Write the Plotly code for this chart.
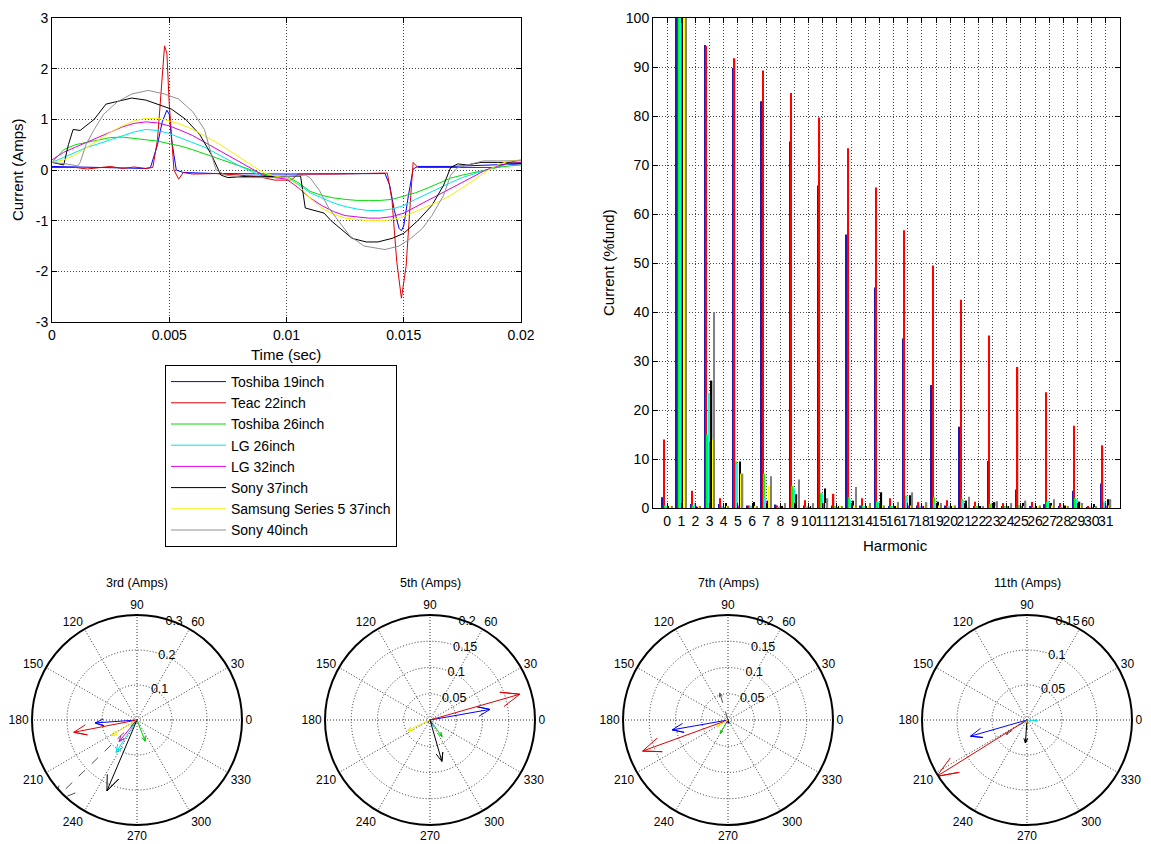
import numpy as np
import plotly.graph_objects as go

# page body has an 8px margin; the figure is sized so that it fills the window from there
OFF = 8
W, H = 1151 - OFF, 844 - OFF
FONT = "Liberation Sans, Arial, Helvetica, sans-serif"

names = ["Toshiba 19inch", "Teac 22inch", "Toshiba 26inch", "LG 26inch",
         "LG 32inch", "Sony 37inch", "Samsung Series 5 37inch", "Sony 40inch"]
line_colors = ["#0000ff", "#e00000", "#00dd00", "#00e5e5", "#e000e0", "#000000", "#f2f200", "#909090"]
bar_colors = ["#2218b0", "#ff0000", "#00ff00", "#00ffff", "#ff00ff", "#000000", "#ffff00", "#808080"]
arrow_colors = ["#0000ff", "#e00000", "#00cc00", "#00dddd", "#dd00dd", "#000000", "#eeee00", "#505050"]

# ---------------- time domain waveforms ----------------
t_grid = [0, .0005, .001, .0015, .002, .0025, .003, .0035, .004, .0045, .005, .0055, .006, .0065,
          .007, .0075, .008, .0085, .009, .0095, .01, .0105, .011, .0115, .012, .0125, .013, .0135,
          .014, .0145, .015, .0155, .016, .0165, .017, .0175, .018, .0185, .019, .0195, .02]

t_tosh19 = [0, .002, .004, .0042, .0045, .0047, .0049, .005, .0051, .0053, .0056, .007, .01, .0142,
            .0144, .0146, .0148, .0149, .015, .0152, .0154, .0156, .017, .02]
i_tosh19 = [0.07, 0.05, 0.03, 0.05, 0.5, 0.95, 1.18, 1.1, 0.6, 0.0, -0.05, -0.07, -0.08, -0.07,
            -0.3, -0.8, -1.15, -1.2, -1.1, -0.5, 0.02, 0.07, 0.07, 0.12]

t_teac = [0, .001, .0015, .0025, .003, .0035, .004, .0043, .0045, .0047, .0048, .0049, .005, .0052,
          .0054, .0056, .006, .007, .008, .009, .0095, .0102, .0105, .012, .0143, .0145, .0147, .0149,
          .0151, .0153, .0154, .0156, .016, .0165, .017, .018, .019, .0195, .02]
i_teac = [0.05, 0.05, 0.02, 0.07, 0.03, 0.06, 0.03, 0.05, 0.6, 1.8, 2.45, 2.3, 1.3, 0.0,
          -0.18, -0.05, -0.08, -0.07, -0.1, -0.15, -0.2, -0.2, -0.08, -0.08, -0.06, -0.6, -1.8, -2.53,
          -1.9, -0.5, 0.15, 0.05, 0.05, 0.06, 0.05, 0.06, 0.05, 0.15, 0.2]

i_tosh26 = [0.15, 0.4, 0.5, 0.55, 0.6, 0.64, 0.65, 0.62, 0.6, 0.57, 0.52, 0.47, 0.4, 0.32,
            0.25, 0.17, 0.08, 0.0, -0.08, -0.12, -0.12, -0.25, -0.42, -0.5, -0.55, -0.58, -0.6, -0.6,
            -0.6, -0.58, -0.52, -0.45, -0.36, -0.26, -0.16, -0.1, -0.05, 0.0, 0.05, 0.08, 0.1]
i_lg26 = [0.15, 0.25, 0.35, 0.45, 0.52, 0.6, 0.68, 0.75, 0.8, 0.78, 0.72, 0.63, 0.55, 0.45,
          0.33, 0.2, 0.08, -0.03, -0.12, -0.15, -0.15, -0.28, -0.45, -0.55, -0.65, -0.72, -0.77, -0.8,
          -0.8, -0.77, -0.7, -0.58, -0.47, -0.35, -0.25, -0.15, -0.07, 0.0, 0.07, 0.12, 0.15]
i_lg32 = [0.2, 0.35, 0.45, 0.55, 0.65, 0.75, 0.85, 0.92, 0.95, 0.93, 0.87, 0.78, 0.68, 0.55,
          0.42, 0.28, 0.15, 0.02, -0.1, -0.15, -0.18, -0.35, -0.55, -0.7, -0.82, -0.9, -0.93, -0.95,
          -0.95, -0.92, -0.85, -0.73, -0.6, -0.48, -0.37, -0.25, -0.12, 0.0, 0.08, 0.13, 0.15]
i_sam37 = [0.15, 0.2, 0.3, 0.45, 0.6, 0.75, 0.87, 0.97, 1.02, 1.02, 0.97, 0.9, 0.8, 0.68,
           0.55, 0.4, 0.25, 0.1, -0.05, -0.12, -0.15, -0.3, -0.55, -0.75, -0.87, -0.95, -0.98, -1.0,
           -1.0, -0.98, -0.92, -0.82, -0.72, -0.62, -0.5, -0.35, -0.2, -0.03, 0.1, 0.18, 0.2]

t_sony37 = [0, .0003, .0005, .0007, .0009, .0012, .0018, .0023, .0029, .0034, .004, .0045, .0051,
            .0057, .0063, .0068, .0072, .0075, .0085, .0095, .0106, .0108, .0112, .0116, .0119,
            .0124, .0128, .0134, .0139, .0145, .015, .0156, .0162, .0167, .017, .0173, .0177,
            .0183, .019, .02]
i_sony37 = [0.15, 0.12, 0.1, 0.5, 0.8, 0.78, 1.0, 1.3, 1.37, 1.42, 1.38, 1.3, 1.2,
            1.0, 0.7, 0.3, -0.1, -0.15, -0.12, -0.13, -0.12, -0.75, -0.8, -0.85, -1.0,
            -1.2, -1.35, -1.42, -1.42, -1.35, -1.25, -1.0, -0.7, -0.3, 0.05, 0.12, 0.1,
            0.15, 0.15, 0.13]

t_sony40 = [0, .0006, .0011, .0012, .00145, .0018, .0022, .0028, .0034, .0041, .0048, .0054, .006,
            .0065, .0068, .007, .0074, .0081, .0095, .0108, .011, .0114, .0118, .0122, .0127,
            .0133, .0142, .0148, .0153, .0158, .0162, .0167, .017, .0173, .0179, .0184, .019, .02]
i_sony40 = [0.15, 0.12, 0.08, 0.15, 0.5, 0.8, 1.1, 1.35, 1.5, 1.57, 1.5, 1.4, 1.15,
            0.8, 0.3, 0.0, -0.1, -0.15, -0.15, -0.1, -0.15, -0.4, -0.75, -1.0, -1.3,
            -1.5, -1.57, -1.5, -1.35, -1.15, -0.9, -0.5, -0.1, 0.05, 0.12, 0.18, 0.18, 0.18]

series_t = [t_tosh19, t_teac, t_grid, t_grid, t_grid, t_sony37, t_grid, t_sony40]
series_i = [i_tosh19, i_teac, i_tosh26, i_lg26, i_lg32, i_sony37, i_sam37, i_sony40]

time_ticks = [0, 0.005, 0.01, 0.015, 0.02]
time_ticktext = ["0", "0.005", "0.01", "0.015", "0.02"]
amp_ticks = [-3, -2, -1, 0, 1, 2, 3]
amp_ticktext = ["-3", "-2", "-1", "0", "1", "2", "3"]

# ---------------- harmonic spectrum (% of fundamental) ----------------
harmonics = list(range(32))
spec_tosh19 = [2.2, 100, 0.8, 94.5, 0.8, 89.8, 0.5, 83, 0.7, 74.8, 0.5, 65.8, 0.5, 55.8, 0.5, 45,
               0.4, 34.6, 0.5, 25.1, 0.5, 16.6, 0.3, 9.6, 0.3, 3.8, 0.3, 0.8, 0.3, 3.5, 0.2, 5]
spec_teac = [14, 100, 3.5, 94.3, 2, 91.8, 0.5, 89.3, 0.5, 84.7, 1.6, 79.7, 2.9, 73.4, 2, 65.4,
             2, 56.7, 1.2, 49.5, 1.6, 42.5, 1.3, 35.2, 1, 28.8, 1.2, 23.6, 1, 16.8, 0.3, 12.8]
spec_tosh26 = [0.5, 100, 0.5, 15, 0.3, 9.5, 0.3, 7, 0.2, 4.5, 0.2, 3, 0.3, 2.2, 0.3, 1.3,
               0.3, 2.5, 0.3, 2.2, 0.3, 1.9, 0.3, 0.8, 0.3, 0.6, 0.2, 1.2, 0.2, 2, 0.2, 1.3]
spec_lg26 = [0.5, 100, 1.0, 23.5, 0.3, 9, 0.3, 2, 0.3, 4, 0.3, 3, 0.3, 1.6, 0.3, 1.3,
             0.3, 2.3, 0.3, 1, 0.3, 1.5, 0.3, 1, 0.3, 0.6, 0.2, 1.5, 0.2, 1.8, 0.2, 1.2]
spec_lg32 = [0.3, 100, 0.3, 13.5, 0.2, 0.5, 0.2, 1.5, 0.3, 0.5, 0.2, 1, 0.2, 0.5, 0.2, 0.5,
             0.2, 0.5, 0.3, 0.8, 0.3, 0.5, 0.3, 0.3, 0.3, 0.3, 0.2, 0.5, 0.2, 0.5, 0.2, 0.5]
spec_sony37 = [0.3, 100, 0.2, 26, 1, 9.5, 1.2, 1.5, 0.3, 2.8, 0.3, 4, 0.3, 1.5, 0.3, 3.2,
               0.3, 2.6, 0.3, 1.3, 0.3, 1.5, 0.3, 1.2, 0.3, 1, 0.3, 1, 0.5, 1.3, 0.8, 1.8]
spec_sam37 = [0.3, 100, 0.3, 14, 0.3, 7, 0.3, 4.5, 0.3, 2, 0.3, 1, 0.3, 0.5, 0.3, 0.5,
              0.3, 0.5, 0.3, 0.5, 0.3, 0.5, 0.3, 0.3, 0.3, 0.3, 0.3, 0.5, 0.3, 0.5, 0.2, 0.5]
spec_sony40 = [0.3, 100, 0.3, 40, 0.3, 7, 0.3, 6.5, 1, 5.8, 1, 2, 0.3, 4.3, 1, 0.5,
               1.2, 3.2, 1.2, 1, 0.5, 2.3, 0.3, 1.4, 1, 1.5, 0.5, 1.8, 0.3, 1, 0.3, 1.8]
spectra = [spec_tosh19, spec_teac, spec_tosh26, spec_lg26, spec_lg32, spec_sony37, spec_sam37, spec_sony40]

# ---------------- harmonic phasors (Amps, degrees) ----------------
h3_mag = [0.12, 0.184, 0.065, 0.11, 0.08, 0.22, 0.087, 0.34]
h3_ang = [184, 191, 291, 237, 230, 247, 211, 224]
h5_mag = [0.116, 0.178, 0.039, 0.015, 0.009, 0.082, 0.047, 0.006]
h5_ang = [10, 16, 306, 301, 300, 286, 205, 233]
h7_mag = [0.108, 0.173, 0.029, 0.009, 0.006, 0.006, 0.024, 0.054]
h7_ang = [190, 200, 240, 300, 250, 280, 209, 107]
h11_mag = [0.084, 0.152, 0.014, 0.015, 0.004, 0.033, 0.004, 0.036]
h11_ang = [196, 212, 268, 356, 260, 266, 250, 215]

polar_titles = ["3rd (Amps)", "5th (Amps)", "7th (Amps)", "11th (Amps)"]
polar_max = [0.3, 0.2, 0.2, 0.15]
polar_ticks = [[0.1, 0.2, 0.3], [0.05, 0.1, 0.15, 0.2], [0.05, 0.1, 0.15, 0.2], [0.05, 0.1, 0.15]]
polar_mags = [h3_mag, h5_mag, h7_mag, h11_mag]
polar_angs = [h3_ang, h5_ang, h7_ang, h11_ang]
angle_ticks = list(range(0, 360, 30))

fig = go.Figure()

# time plot
for k in range(8):
    fig.add_trace(go.Scatter(x=series_t[k], y=series_i[k], mode="lines", name=names[k],
                             line=dict(color=line_colors[k], width=1), xaxis="x", yaxis="y",
                             showlegend=True))

# spectrum bars
for k in range(8):
    fig.add_trace(go.Bar(x=harmonics, y=spectra[k], marker=dict(color=bar_colors[k], line=dict(width=0)),
                         xaxis="x2", yaxis="y2", showlegend=False, name=names[k]))

# compass plots (MATLAB style arrow: z*[0, 1, .8+.08i, 1, .8-.08i])
shape = np.array([0, 1, 0.8 + 0.08j, 1, 0.8 - 0.08j])
for p in range(4):
    sub = "polar" if p == 0 else f"polar{p+1}"
    for k in range(8):
        z = polar_mags[p][k] * np.exp(1j * np.deg2rad(polar_angs[p][k]))
        pts = z * shape
        fig.add_trace(go.Scatterpolar(
            r=np.abs(pts), theta=np.rad2deg(np.angle(pts)), mode="lines", subplot=sub,
            line=dict(color=arrow_colors[k], width=1, dash="dash" if k == 7 else "solid"),
            showlegend=False, cliponaxis=False, hoverinfo="skip"))

def px_x(v):
    return (v - OFF) / W

def px_y(v):
    return 1 - (v - OFF) / H

DOT = "1px,2px"
tickfont = dict(family=FONT, size=14, color="black")
axis_common = dict(showline=True, linecolor="black", linewidth=1, mirror="ticks", ticks="inside",
                   ticklen=5, tickcolor="black", showgrid=True, gridcolor="#444444", griddash=DOT,
                   gridwidth=1, zeroline=False, tickfont=tickfont, automargin=False, tickangle=0)

layout = dict(
    width=W, height=H, margin=dict(l=0, r=0, t=0, b=0, autoexpand=False),
    paper_bgcolor="white", plot_bgcolor="white",
    font=dict(family=FONT, size=12, color="black"),
    barmode="group", bargap=0.24, bargroupgap=0,
    xaxis=dict(domain=[px_x(52), px_x(521)], range=[0, 0.02], tickvals=time_ticks,
               ticktext=time_ticktext, anchor="y", **axis_common),
    yaxis=dict(domain=[px_y(322), px_y(18)], range=[-3, 3], tickvals=amp_ticks, ticktext=amp_ticktext,
               anchor="x", **axis_common),
    xaxis2=dict(domain=[px_x(653), px_x(1120)], range=[-1, 32], tickvals=harmonics, anchor="y2",
                **axis_common),
    yaxis2=dict(domain=[px_y(508), px_y(18)], range=[0, 100], dtick=10, anchor="x2", **axis_common),
    legend=dict(x=px_x(165), y=px_y(365), xanchor="left", yanchor="top", bgcolor="white",
                bordercolor="black", borderwidth=1, font=dict(family=FONT, size=14, color="black"),
                tracegroupgap=0, itemwidth=55),
    showlegend=True,
)

centers = [137, 430, 728, 1027]
R = 105
cy = 720
annotations = []
for p in range(4):
    key = "polar" if p == 0 else f"polar{p+1}"
    layout[key] = dict(
        domain=dict(x=[px_x(centers[p] - R), px_x(centers[p] + R)], y=[px_y(cy + R), px_y(cy - R)]),
        bgcolor="white",
        radialaxis=dict(range=[0, polar_max[p]], tickvals=polar_ticks[p], angle=78, showline=False,
                        ticks="", ticklen=0, gridcolor="#333333", griddash=DOT, gridwidth=1,
                        tickfont=dict(family=FONT, size=12.5, color="black"), tickangle=78),
        angularaxis=dict(rotation=0, direction="counterclockwise", tickmode="array",
                         tickvals=angle_ticks, ticktext=[str(a) for a in angle_ticks],
                         showline=True, linecolor="black", linewidth=2, ticks="", ticklen=0,
                         gridcolor="#333333", griddash=DOT, gridwidth=1,
                         tickfont=dict(family=FONT, size=12, color="black")),
    )
    annotations.append(dict(text=polar_titles[p], x=px_x(centers[p]), y=px_y(583), xref="paper",
                            yref="paper", xanchor="center", yanchor="middle", showarrow=False,
                            font=dict(family=FONT, size=12.5)))

def label(text, x, y, angle=0):
    return dict(text=text, x=px_x(x), y=px_y(y), xref="paper", yref="paper", xanchor="center",
                yanchor="middle", showarrow=False, textangle=angle, font=dict(family=FONT, size=15))

annotations += [
    label("Time (sec)", 286, 354),
    label("Current (Amps)", 18, 170, -90),
    label("Harmonic", 895, 545),
    label("Current (%fund)", 608, 263, -90),
]
layout["annotations"] = annotations

fig.update_layout(**layout)
fig.write_html("out.html")
